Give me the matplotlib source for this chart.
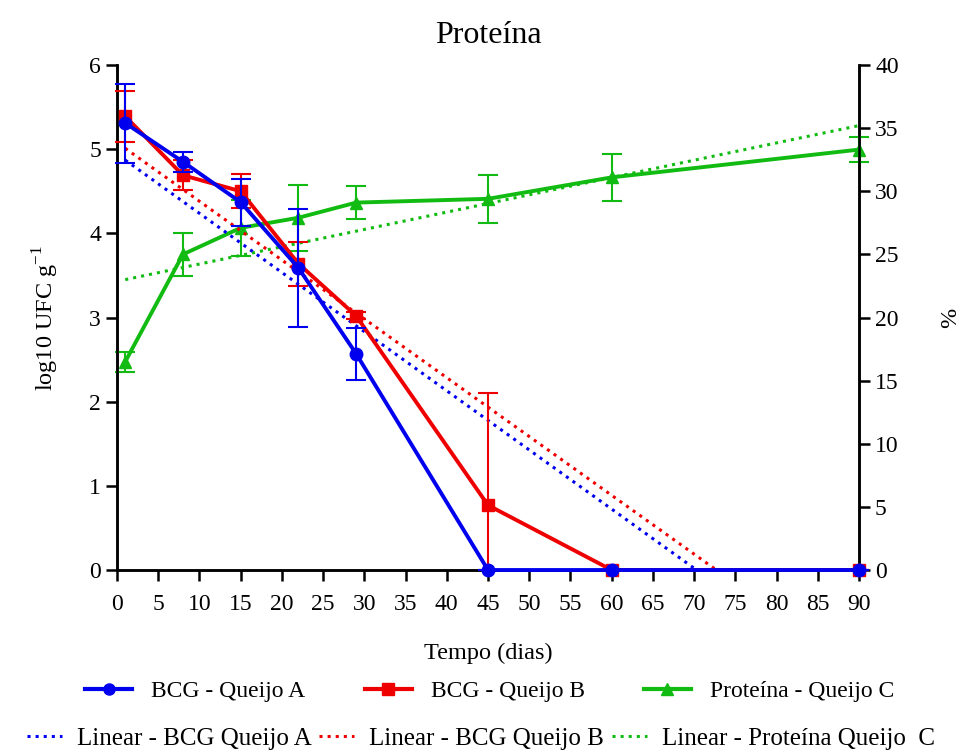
import matplotlib.pyplot as plt
from matplotlib.lines import Line2D

plt.rcParams['font.family'] = ['Liberation Serif', 'DejaVu Serif']
plt.rcParams['mathtext.fontset'] = 'custom'
plt.rcParams['mathtext.rm'] = 'Liberation Serif'

dias = [1, 8, 15, 22, 29, 45, 60, 90]

bcg_a = [5.31, 4.85, 4.37, 3.59, 2.57, 0, 0, 0]
bcg_a_err = [0.47, 0.12, 0.28, 0.70, 0.31, 0, 0, 0]

bcg_b = [5.39, 4.69, 4.50, 3.64, 3.02, 0.77, 0, 0]
bcg_b_err_lo = [0.30, 0.18, 0.20, 0.26, 0.04, 0.77, 0, 0]
bcg_b_err_hi = [0.30, 0.18, 0.20, 0.26, 0.04, 1.33, 0, 0]

prot_c = [16.5, 25.0, 27.1, 27.9, 29.1, 29.4, 31.1, 33.3]
prot_c_err = [0.8, 1.7, 2.2, 2.6, 1.3, 1.9, 1.85, 1.0]

# trend lines (end points)
lin_a_x = [1, 70.3]
lin_a_y = [4.87, 0]
lin_b_x = [1, 72.7]
lin_b_y = [5.01, 0]
lin_c_x = [1, 90]
lin_c_y = [23.0, 35.2]

blue = '#0000ee'
red = '#ee0000'
green = '#11bb11'

fig = plt.figure(figsize=(9.62, 7.53), dpi=100)
ax = fig.add_axes([0.1216, 0.243, 0.7714, 0.6707])
ax2 = ax.twinx()

ax.plot(lin_a_x, lin_a_y, ':', color=blue, lw=2.2, zorder=2)
ax.plot(lin_b_x, lin_b_y, ':', color=red, lw=2.2, zorder=2)
ax2.plot(lin_c_x, lin_c_y, ':', color=green, lw=2.2, zorder=2)

ax2.errorbar(dias, prot_c, yerr=prot_c_err, color=green, lw=2.8, marker='^',
             ms=8, elinewidth=1.5, capsize=7, capthick=1.5, clip_on=False, zorder=3)
ax.errorbar(dias, bcg_b, yerr=[bcg_b_err_lo, bcg_b_err_hi], color=red, lw=2.8,
            marker='s', ms=8, elinewidth=1.5, capsize=7, capthick=1.5,
            clip_on=False, zorder=3)
ax.errorbar(dias, bcg_a, yerr=bcg_a_err, color=blue, lw=2.8, marker='o',
            ms=9, elinewidth=1.5, capsize=7, capthick=1.5, clip_on=False, zorder=4)

# main axes above the twin so blue/red draw over green
ax.set_zorder(ax2.get_zorder() + 1)
ax.patch.set_visible(False)

ax.set_xlim(0, 90)
ax.set_ylim(0, 6)
ax2.set_ylim(0, 40)
ax.set_xticks(range(0, 91, 5))
ax.set_yticks(range(0, 7))
ax2.set_yticks(range(0, 41, 5))

for a in (ax, ax2):
    a.spines['top'].set_visible(False)
    for s in a.spines.values():
        s.set_linewidth(1.8)
    a.tick_params(direction='out', length=8, width=1.8, labelsize=17)
ax.tick_params(axis='x', pad=9)

ax.set_title('Proteína', fontsize=23, pad=16)
ax.set_xlabel('Tempo (dias)', fontsize=17.5, labelpad=20)
ax.set_ylabel('log10 UFC g$^{-1}$', fontsize=17.5, labelpad=20)
ax2.set_ylabel('%', fontsize=17.5, labelpad=30)

h1 = [Line2D([], [], color=blue, lw=3, marker='o', ms=8),
      Line2D([], [], color=red, lw=3, marker='s', ms=8),
      Line2D([], [], color=green, lw=3, marker='^', ms=8)]
l1 = ['BCG - Queijo A', 'BCG - Queijo B', 'Proteína - Queijo C']
fig.legend(h1, l1, ncol=3, loc='center', bbox_to_anchor=(0.509, 0.082),
           frameon=False, fontsize=17, handlelength=2.0, columnspacing=2.5,
           handletextpad=0.8)

h2 = [Line2D([], [], color=blue, lw=2.2, ls=':'),
      Line2D([], [], color=red, lw=2.2, ls=':'),
      Line2D([], [], color=green, lw=2.2, ls=':')]
l2 = ['Linear - BCG Queijo A', 'Linear - BCG Queijo B', 'Linear - Proteína Queijo  C']
fig.legend(h2, l2, ncol=3, loc='center', bbox_to_anchor=(0.5, 0.0186),
           frameon=False, fontsize=18, handlelength=1.4, columnspacing=0.3,
           handletextpad=0.6)

fig.savefig('out.png', dpi=100)
